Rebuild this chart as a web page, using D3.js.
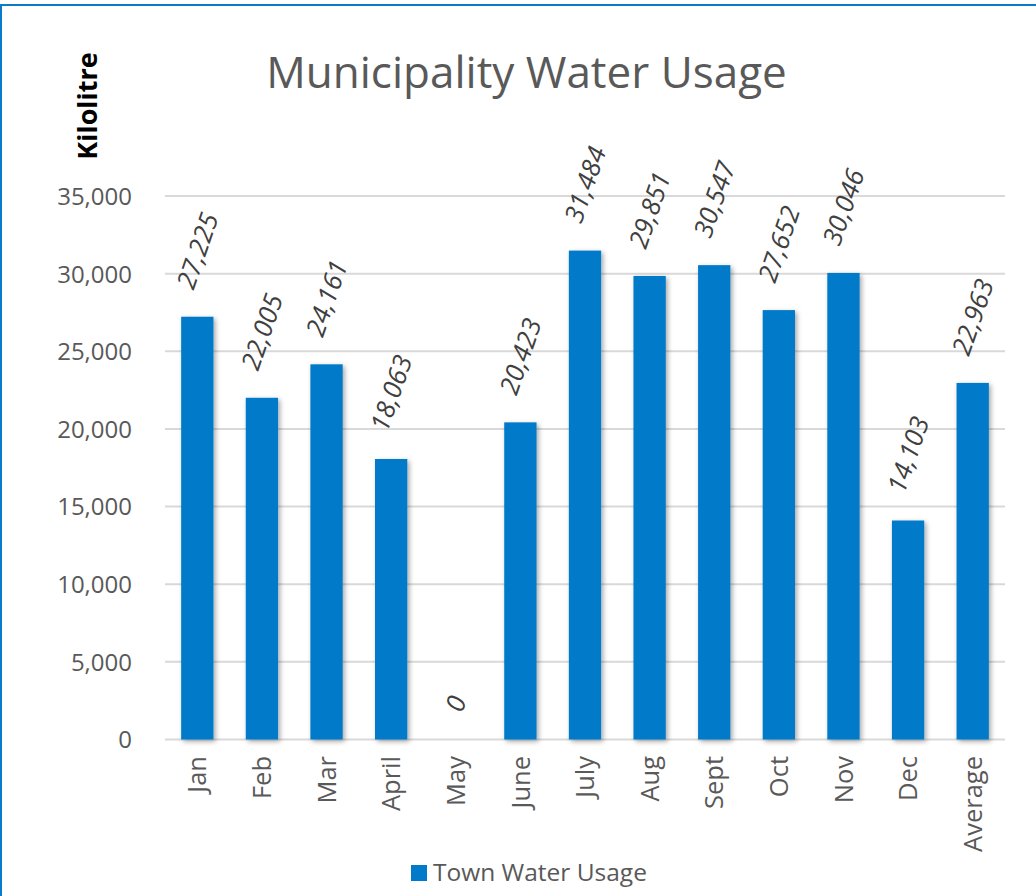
<!DOCTYPE html>
<html><head><meta charset="utf-8">
<script src="https://cdn.jsdelivr.net/npm/d3@7"></script>
<style>
html,body{margin:0;padding:0;background:#fff;}
svg{display:block;font-family:"Open Sans",sans-serif;}
</style></head>
<body>
<svg id="chart" width="1036" height="896"></svg>
<script>
const categories = ["Jan","Feb","Mar","April","May","June","July","Aug","Sept","Oct","Nov","Dec","Average"];
const values = [27225,22005,24161,18063,0,20423,31484,29851,30547,27652,30046,14103,22963];
const yTicks = [0,5000,10000,15000,20000,25000,30000,35000];
const seriesName = "Town Water Usage";
const title = "Municipality Water Usage";
const yLabel = "Kilolitre";

const svg = d3.select("#chart");
const W = 1036, H = 896;
const m = {left:165, right:1005, top:196, bottom:739.5};
const barColor = "#007AC9";

// border
svg.append("rect").attr("x",1).attr("y",5).attr("width",W+10).attr("height",H+10)
  .attr("fill","#fff").attr("stroke","#0A7BC8").attr("stroke-width",2);

const defs = svg.append("defs");
const f = defs.append("filter").attr("id","shadow").attr("x","-30%").attr("y","-10%").attr("width","160%").attr("height","130%");
f.append("feDropShadow").attr("dx",2).attr("dy",2).attr("stdDeviation",2.5).attr("flood-color","#000").attr("flood-opacity",0.35);

const x = d3.scaleBand().domain(categories).range([m.left,m.right]).paddingInner(0.5).paddingOuter(0.25);
const y = d3.scaleLinear().domain([0,35000]).range([m.bottom,m.top]);

// gridlines
svg.append("g").selectAll("line").data(yTicks).join("line")
  .attr("x1",m.left).attr("x2",m.right)
  .attr("y1",d=>y(d)).attr("y2",d=>y(d))
  .attr("stroke","#D9D9D9").attr("stroke-width",2);

// y axis labels
const yAxis = d3.axisLeft(y).tickValues(yTicks).tickSize(0).tickPadding(0).tickFormat(d3.format(","));
const ga = svg.append("g").attr("transform",`translate(132,0)`).call(yAxis);
ga.select(".domain").remove();
ga.selectAll("text").attr("font-size",24).attr("fill","#595959").attr("font-family","Open Sans").attr("dy","0.35em");

// bars
svg.append("g").selectAll("rect").data(values).join("rect")
  .attr("x",(d,i)=>x(categories[i]))
  .attr("width",x.bandwidth())
  .attr("y",d=>y(d))
  .attr("height",d=>y(0)-y(d))
  .attr("fill",barColor)
  .attr("filter","url(#shadow)");

// x axis labels
const xAxis = d3.axisBottom(x).tickSize(0).tickPadding(0);
const gx = svg.append("g").attr("transform",`translate(0,756)`).call(xAxis);
gx.select(".domain").remove();
gx.selectAll("text").attr("font-size",25.5).attr("fill","#595959").attr("font-family","Open Sans")
  .attr("transform","rotate(-90)").attr("text-anchor","end").attr("x",0).attr("y",0).attr("dy","0.36em");

// data labels
const deg = 71;
const theta = deg*Math.PI/180;
const fs = 26;
const lg = svg.append("g");
values.forEach((v,i)=>{
  const cx = x(categories[i]) + x.bandwidth()/2;
  const t = lg.append("text").text(d3.format(",")(v))
    .attr("font-size",fs).attr("font-style","italic").attr("fill","#404040")
    .attr("text-anchor","middle").attr("dy","0.36em");
  const L = t.node().getComputedTextLength();
  const hh = 0.72*fs;
  const bh = L*Math.sin(theta) + hh*Math.cos(theta);
  const cy = y(v) - 26 - bh/2;
  t.attr("transform",`translate(${cx},${cy}) rotate(${-deg})`);
});

// title
svg.append("text").attr("x",526.5).attr("y",88).attr("text-anchor","middle")
  .attr("font-size",44).attr("fill","#595959").text(title);

// y label
svg.append("text").attr("transform","translate(97,106) rotate(-90)").attr("text-anchor","middle")
  .attr("font-size",27).attr("font-weight","bold").attr("fill","#000").text(yLabel);

// legend
svg.append("rect").attr("x",411).attr("y",865).attr("width",16).attr("height",16).attr("fill",barColor);
svg.append("text").attr("x",433).attr("y",881).attr("font-size",24.5).attr("fill","#595959").text(seriesName);
</script>
</body></html>
